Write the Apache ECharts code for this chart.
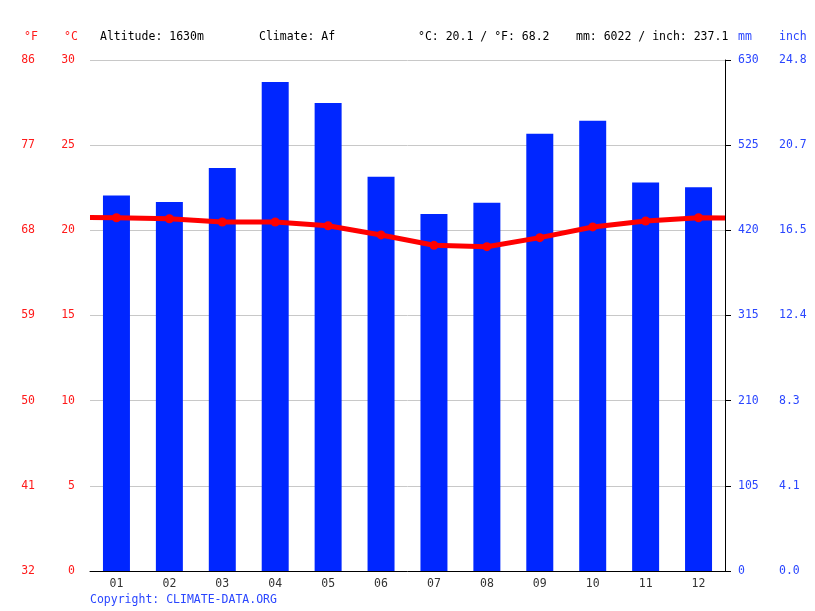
<!DOCTYPE html>
<html><head><meta charset="utf-8">
<script src="https://cdn.jsdelivr.net/npm/echarts@6/dist/echarts.min.js"></script>
<style>html,body{margin:0;padding:0;background:#fff}#c{width:815px;height:611px}</style>
</head><body><div id="c"></div>
<script>
const months = ['01','02','03','04','05','06','07','08','09','10','11','12'];
const precipMm = [463, 455, 497, 603, 577, 486, 440, 454, 539, 555, 479, 473];
const tempC = [20.74, 20.68, 20.49, 20.49, 20.27, 19.73, 19.12, 19.04, 19.57, 20.2, 20.55, 20.74];
const tempEdges = [20.75, 20.72]; // line value at the left and right plot edges
const headerTexts = ['Altitude: 1630m', 'Climate: Af', '°C: 20.1 / °F: 68.2', 'mm: 6022 / inch: 237.1'];

const FONT = '"DejaVu Sans Mono", monospace';
const RED = '#ff1a1a', LINE_RED = '#ff0000', BLUE = '#2a46ff', BAR = '#0026ff';

const lineData = [{value:[0, tempEdges[0]], symbol:'none'}]
  .concat(tempC.map((t,i)=>[i+0.5, t]))
  .concat([{value:[12, tempEdges[1]], symbol:'none'}]);

const chart = echarts.init(document.getElementById('c'), null, {renderer:'canvas'});
const headerX = [100, 259, 418, 576];
const lblPad = [2,0,0,0];
chart.setOption({
  animation:false,
  grid:{left:90, right:90, top:60, bottom:40},
  xAxis:[
    {type:'category', data:months, boundaryGap:true,
     axisLine:{lineStyle:{color:'#000', width:1}},
     axisTick:{length:5, lineStyle:{color:'#000'}},
     axisLabel:{color:'#333', fontFamily:FONT, fontSize:11.5, margin:7}},
    {type:'value', min:0, max:12, show:false}
  ],
  yAxis:[
    {type:'value', position:'left', min:0, max:30, interval:5,
     axisLine:{show:false}, axisTick:{show:false},
     axisLabel:{color:RED, fontFamily:FONT, fontSize:11.5, margin:15, padding:lblPad},
     splitLine:{lineStyle:{color:'#c8c8c8', width:1}}},
    {type:'value', position:'left', offset:40, min:0, max:30, interval:5,
     axisLine:{show:false}, axisTick:{show:false}, splitLine:{show:false},
     axisLabel:{color:RED, fontFamily:FONT, fontSize:11.5, margin:15, padding:lblPad,
       formatter:v=>String(Math.round(v*9/5+32))}},
    {type:'value', position:'right', min:0, max:630, interval:105,
     axisLine:{show:true, lineStyle:{color:'#000'}},
     axisTick:{show:true, length:6, lineStyle:{color:'#000'}},
     splitLine:{show:false},
     axisLabel:{color:BLUE, fontFamily:FONT, fontSize:11.5, margin:13, padding:lblPad}},
    {type:'value', position:'right', offset:41, min:0, max:630, interval:105,
     axisLine:{show:false}, axisTick:{show:false}, splitLine:{show:false},
     axisLabel:{color:BLUE, fontFamily:FONT, fontSize:11.5, margin:13, padding:lblPad,
       formatter:v=>(v/25.4).toFixed(1)}}
  ],
  series:[
    {type:'bar', xAxisIndex:0, yAxisIndex:2, data:precipMm, barWidth:'51%',
     itemStyle:{color:BAR}, z:2},
    {type:'line', xAxisIndex:1, yAxisIndex:0, data:lineData,
     symbol:'circle', symbolSize:9, showSymbol:true,
     lineStyle:{color:LINE_RED, width:5}, itemStyle:{color:LINE_RED}, z:5}
  ],
  graphic:[
    {type:'text', left:24, top:31, style:{text:'°F', fill:RED, font:'11.5px '+FONT}},
    {type:'text', left:64, top:31, style:{text:'°C', fill:RED, font:'11.5px '+FONT}},
    {type:'text', left:738, top:31, style:{text:'mm', fill:BLUE, font:'11.5px '+FONT}},
    {type:'text', left:779, top:31, style:{text:'inch', fill:BLUE, font:'11.5px '+FONT}},
    ...headerTexts.map((t,i)=>({type:'text', left:headerX[i], top:31, style:{text:t, fill:'#000', font:'11.5px '+FONT}})),
    {type:'text', left:90, top:594, style:{text:'Copyright: CLIMATE-DATA.ORG', fill:BLUE, font:'11.5px '+FONT}}
  ]
});
</script></body></html>
